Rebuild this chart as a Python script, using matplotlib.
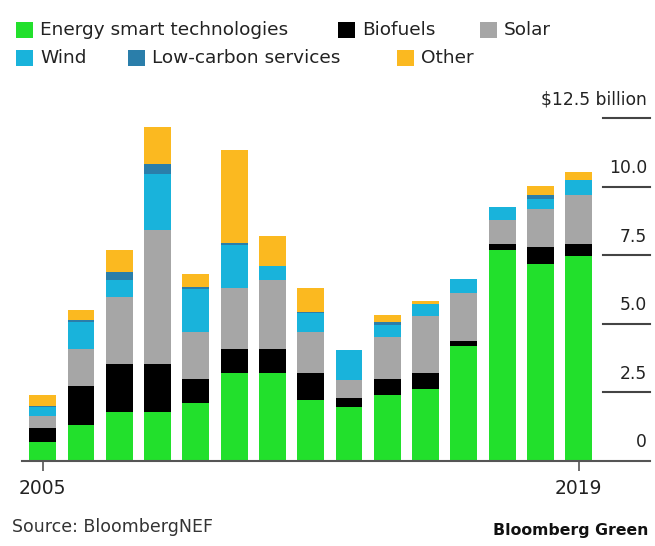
import matplotlib
matplotlib.use("Agg")
import matplotlib.pyplot as plt
from matplotlib.patches import Rectangle
import numpy as np

# Clean-energy venture funding by sector, $ billion
years = list(range(2005, 2020))
energy_smart = [0.68, 1.31, 1.80, 1.80, 2.10, 3.20, 3.20, 2.23, 1.98, 2.41, 2.62, 4.20, 7.70, 7.19, 7.49]
biofuels     = [0.51, 1.43, 1.73, 1.73, 0.88, 0.89, 0.89, 0.99, 0.31, 0.57, 0.60, 0.19, 0.22, 0.63, 0.43]
solar        = [0.45, 1.34, 2.47, 4.90, 1.74, 2.21, 2.52, 1.50, 0.67, 1.56, 2.07, 1.73, 0.88, 1.38, 1.79]
wind         = [0.32, 1.00, 0.61, 2.03, 1.56, 1.58, 0.52, 0.67, 1.09, 0.42, 0.43, 0.51, 0.46, 0.35, 0.55]
low_carbon   = [0.05, 0.05, 0.30, 0.37, 0.05, 0.06, 0.00, 0.05, 0.00, 0.12, 0.00, 0.00, 0.00, 0.16, 0.00]
other        = [0.40, 0.38, 0.77, 1.37, 0.49, 3.41, 1.09, 0.86, 0.00, 0.25, 0.12, 0.00, 0.00, 0.33, 0.28]

series = [
    ("Energy smart technologies", energy_smart, "#22e02c"),
    ("Biofuels", biofuels, "#000000"),
    ("Solar", solar, "#a6a6a6"),
    ("Wind", wind, "#19b3db"),
    ("Low-carbon services", low_carbon, "#2a7eaa"),
    ("Other", other, "#fbb920"),
]
y_ticks = [0, 2.5, 5.0, 7.5, 10.0, 12.5]
y_labels = ["0", "2.5", "5.0", "7.5", "10.0", "\\$12.5 billion"]

W, H = 655, 546
fig = plt.figure(figsize=(W / 100, H / 100), dpi=100)

def fx(px):
    return px / W

def fy(px):
    return 1 - px / H

ax = fig.add_axes([fx(22), fy(461), fx(650) - fx(22), fy(118.3) - fy(461)])

x = np.arange(len(years))
bottom = np.zeros(len(years))
for name, vals, color in series:
    ax.bar(x, vals, width=0.7, bottom=bottom, color=color, linewidth=0)
    bottom += np.array(vals)

ax.set_xlim(-0.54, 15.86)
ax.set_ylim(0, 12.5)

for s in ["top", "left", "right"]:
    ax.spines[s].set_visible(False)
ax.spines["bottom"].set_color("#555555")
ax.spines["bottom"].set_linewidth(1.5)

ax.set_xticks([0, len(years) - 1])
ax.set_xticklabels([str(years[0]), str(years[-1])], fontsize=13.5, color="#222222")
ax.tick_params(axis="x", length=7, width=1.2, color="#555555", pad=6)
ax.set_yticks([])

# short value rules on the right with labels sitting above them
ytrans = ax.get_yaxis_transform()
for v, lab in zip(y_ticks, y_labels):
    if v > 0:
        ax.plot([0.925, 1.0], [v, v], transform=ytrans, color="#444444", lw=1.5, clip_on=False)
    ax.annotate(lab, xy=(1.0, v), xycoords=ytrans, xytext=(-2, 7), textcoords="offset points",
                ha="right", va="bottom", fontsize=12.3, color="#222222")

# legend, two rows
legend_rows = [
    (30, [(16, 0), (338, 1), (480, 2)]),
    (58, [(16, 3), (128, 4), (397, 5)]),
]
for yc, items in legend_rows:
    for xl, idx in items:
        name, _, color = series[idx]
        fig.add_artist(Rectangle((fx(xl), fy(yc + 8)), fx(17), 16 / H,
                                 transform=fig.transFigure, color=color, lw=0))
        fig.text(fx(xl + 24), fy(yc), name, ha="left", va="center", fontsize=13.3, color="#222222")

fig.text(fx(12), fy(527), "Source: BloombergNEF", ha="left", va="center", fontsize=12.5, color="#333333")
fig.text(fx(648), fy(530), "Bloomberg Green", ha="right", va="center", fontsize=11.3,
         fontweight="bold", color="#111111")

fig.savefig("out.png", dpi=100, facecolor="white")
